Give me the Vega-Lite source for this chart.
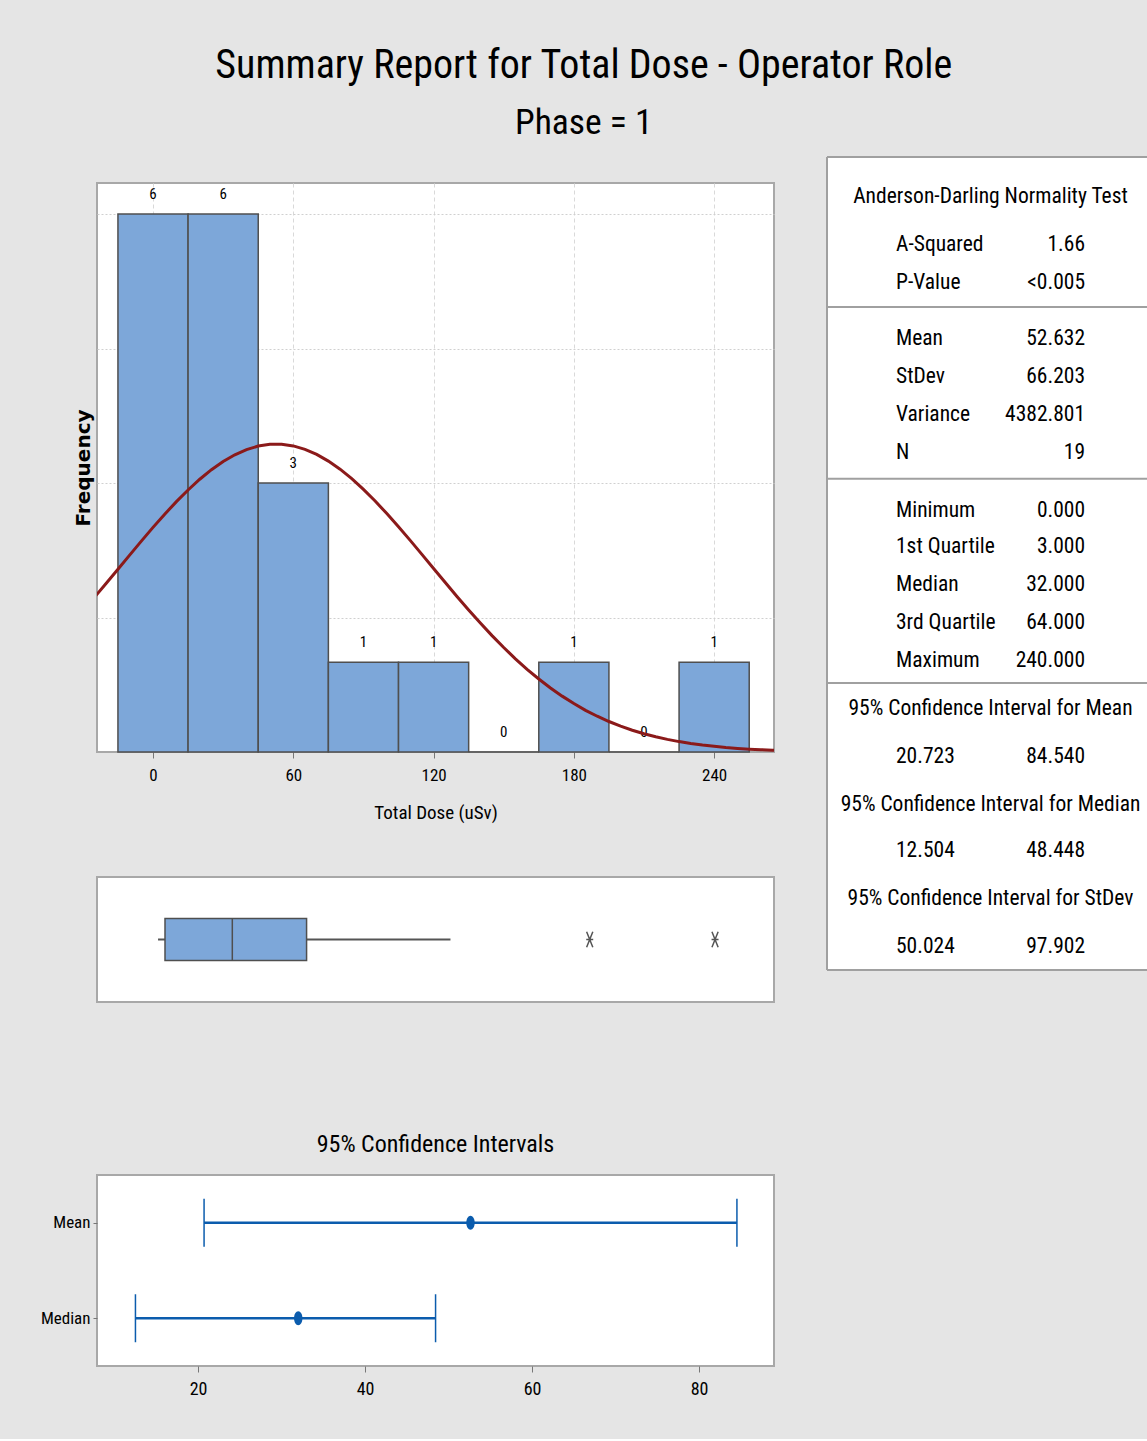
{
  "$schema": "https://vega.github.io/schema/vega-lite/v6.json",
  "background": "#e5e5e5",
  "padding": {"left": 39, "top": 46, "right": 0, "bottom": 40},
  "autosize": {"type": "pad"},
  "title": {
    "text": "Summary Report for Total Dose - Operator Role",
    "subtitle": "Phase = 1",
    "anchor": "middle",
    "font": "Roboto Condensed, DejaVu Sans Condensed, Roboto",
    "fontSize": 40,
    "fontWeight": "normal",
    "color": "#000000",
    "subtitleFont": "Roboto Condensed, DejaVu Sans Condensed, Roboto",
    "subtitleFontSize": 35.5,
    "subtitleColor": "#000000",
    "subtitlePadding": 19.5,
    "offset": 15,
    "dx": -10
  },
  "config": {
    "view": {"stroke": "#a8a8a8", "strokeWidth": 2, "fill": "white"},
    "font": "Roboto Condensed, DejaVu Sans Condensed, Roboto",
    "axis": {
      "labelFont": "Roboto Condensed, DejaVu Sans Condensed, Roboto",
      "titleFont": "Roboto Condensed, DejaVu Sans Condensed, Roboto",
      "labelColor": "#000000",
      "titleColor": "#000000",
      "titleFontWeight": "normal",
      "tickColor": "#777777",
      "grid": false,
      "domain": false
    }
  },
  "datasets": {
    "bins": [
      {"mid": 0, "lo": -15, "hi": 15, "count": 6},
      {"mid": 30, "lo": 15, "hi": 45, "count": 6},
      {"mid": 60, "lo": 45, "hi": 75, "count": 3},
      {"mid": 90, "lo": 75, "hi": 105, "count": 1},
      {"mid": 120, "lo": 105, "hi": 135, "count": 1},
      {"mid": 150, "lo": 135, "hi": 165, "count": 0},
      {"mid": 180, "lo": 165, "hi": 195, "count": 1},
      {"mid": 210, "lo": 195, "hi": 225, "count": 0},
      {"mid": 240, "lo": 225, "hi": 255, "count": 1}
    ],
    "curve": [
      {"x": -25, "f": 1.727}, {"x": -20, "f": 1.882}, {"x": -15, "f": 2.038}, {"x": -10, "f": 2.196},
      {"x": -5, "f": 2.352}, {"x": 0, "f": 2.505}, {"x": 5, "f": 2.652}, {"x": 10, "f": 2.792},
      {"x": 15, "f": 2.922}, {"x": 20, "f": 3.042}, {"x": 25, "f": 3.149}, {"x": 30, "f": 3.240},
      {"x": 35, "f": 3.315}, {"x": 40, "f": 3.373}, {"x": 45, "f": 3.412}, {"x": 50, "f": 3.432},
      {"x": 55, "f": 3.433}, {"x": 60, "f": 3.414}, {"x": 65, "f": 3.376}, {"x": 70, "f": 3.319},
      {"x": 75, "f": 3.244}, {"x": 80, "f": 3.154}, {"x": 85, "f": 3.048}, {"x": 90, "f": 2.929},
      {"x": 95, "f": 2.799}, {"x": 100, "f": 2.659}, {"x": 105, "f": 2.512}, {"x": 110, "f": 2.360},
      {"x": 115, "f": 2.204}, {"x": 120, "f": 2.047}, {"x": 125, "f": 1.890}, {"x": 130, "f": 1.735},
      {"x": 135, "f": 1.584}, {"x": 140, "f": 1.438}, {"x": 145, "f": 1.298}, {"x": 150, "f": 1.165},
      {"x": 155, "f": 1.039}, {"x": 160, "f": 0.922}, {"x": 165, "f": 0.814}, {"x": 170, "f": 0.714},
      {"x": 175, "f": 0.623}, {"x": 180, "f": 0.540}, {"x": 185, "f": 0.465}, {"x": 190, "f": 0.399},
      {"x": 195, "f": 0.340}, {"x": 200, "f": 0.288}, {"x": 205, "f": 0.243}, {"x": 210, "f": 0.204},
      {"x": 215, "f": 0.170}, {"x": 220, "f": 0.141}, {"x": 225, "f": 0.116}, {"x": 230, "f": 0.095},
      {"x": 235, "f": 0.077}, {"x": 240, "f": 0.063}, {"x": 245, "f": 0.050}, {"x": 250, "f": 0.040},
      {"x": 255, "f": 0.032}, {"x": 260, "f": 0.026}, {"x": 265, "f": 0.020}, {"x": 270, "f": 0.015}
    ],
    "box": [{"min": 0, "q1": 3, "median": 32, "q3": 64, "max": 126}],
    "outliers": [{"v": 186}, {"v": 240}],
    "ci": [
      {"stat": "Mean", "est": 52.632, "lo": 20.723, "hi": 84.540},
      {"stat": "Median", "est": 32.0, "lo": 12.504, "hi": 48.448}
    ],
    "dividers": [{"pos": 0}, {"pos": 3.95}, {"pos": 8.47}, {"pos": 13.84}, {"pos": 21.395}],
    "table": [
      {"row": 1.05, "header": "Anderson-Darling Normality Test"},
      {"row": 2.31, "label": "A-Squared", "value": "1.66"},
      {"row": 3.31, "label": "P-Value", "value": "<0.005"},
      {"row": 4.79, "label": "Mean", "value": "52.632"},
      {"row": 5.79, "label": "StDev", "value": "66.203"},
      {"row": 6.79, "label": "Variance", "value": "4382.801"},
      {"row": 7.79, "label": "N", "value": "19"},
      {"row": 9.31, "label": "Minimum", "value": "0.000"},
      {"row": 10.26, "label": "1st Quartile", "value": "3.000"},
      {"row": 11.26, "label": "Median", "value": "32.000"},
      {"row": 12.26, "label": "3rd Quartile", "value": "64.000"},
      {"row": 13.26, "label": "Maximum", "value": "240.000"},
      {"row": 14.52, "header": "95% Confidence Interval for Mean"},
      {"row": 15.79, "label": "20.723", "value": "84.540"},
      {"row": 17.05, "header": "95% Confidence Interval for Median"},
      {"row": 18.26, "label": "12.504", "value": "48.448"},
      {"row": 19.52, "header": "95% Confidence Interval for StDev"},
      {"row": 20.79, "label": "50.024", "value": "97.902"}
    ]
  },
  "hconcat": [
    {
      "vconcat": [
        {
          "vconcat": [
            {
              "width": 677,
              "height": 569,
              "layer": [
                {
                  "data": {"name": "bins"},
                  "mark": {"type": "bar", "fill": "#7da7d9", "stroke": "#4f4f4f", "strokeWidth": 1.5},
                  "encoding": {
                    "x": {
                      "field": "lo", "type": "quantitative", "title": "Total Dose (uSv)",
                      "scale": {"domain": [-23.96, 265.6], "nice": false, "zero": false},
                      "axis": {"values": [0, 60, 120, 180, 240], "grid": true, "gridDash": [4, 3], "gridColor": "#d9d9d9", "ticks": true, "tickSize": 6, "labelFontSize": 17, "labelPadding": 9, "titleFontSize": 19, "titlePadding": 20}
                    },
                    "x2": {"field": "hi"},
                    "y": {
                      "field": "count", "type": "quantitative", "title": "Frequency",
                      "scale": {"domain": [0, 6.346], "nice": false},
                      "axis": {"values": [1.5, 3, 4.5, 6], "grid": true, "gridDash": [2, 2], "gridColor": "#d0d0d0", "labels": false, "ticks": false, "titleFont": "DejaVu Sans", "titleFontWeight": "bold", "titleFontSize": 20, "titlePadding": 4}
                    },
                    "y2": {"datum": 0}
                  }
                },
                {
                  "data": {"name": "bins"},
                  "mark": {"type": "text", "dy": -20, "fontSize": 15, "color": "#000000"},
                  "encoding": {
                    "x": {"field": "mid", "type": "quantitative", "title": "Total Dose (uSv)"},
                    "y": {"field": "count", "type": "quantitative", "title": "Frequency"},
                    "text": {"field": "count", "type": "quantitative"}
                  }
                },
                {
                  "data": {"name": "curve"},
                  "mark": {"type": "line", "color": "#8b1a1a", "strokeWidth": 3, "clip": true},
                  "encoding": {
                    "x": {"field": "x", "type": "quantitative", "title": "Total Dose (uSv)"},
                    "y": {"field": "f", "type": "quantitative", "title": "Frequency"}
                  }
                }
              ]
            },
            {
              "width": 677,
              "height": 125,
              "layer": [
                {
                  "data": {"name": "box"},
                  "mark": {"type": "rule", "color": "#555555", "strokeWidth": 2},
                  "encoding": {
                    "x": {"field": "min", "type": "quantitative", "scale": {"domain": [-26.3, 265.4], "nice": false, "zero": false}, "axis": null},
                    "x2": {"field": "q1"},
                    "y": {"datum": 0, "type": "quantitative", "scale": {"domain": [-1, 1], "nice": false}, "axis": null}
                  }
                },
                {
                  "data": {"name": "box"},
                  "mark": {"type": "rule", "color": "#555555", "strokeWidth": 2},
                  "encoding": {
                    "x": {"field": "q3", "type": "quantitative", "axis": null},
                    "x2": {"field": "max"},
                    "y": {"datum": 0, "type": "quantitative", "axis": null}
                  }
                },
                {
                  "data": {"name": "box"},
                  "mark": {"type": "rect", "fill": "#7da7d9", "stroke": "#4f4f4f", "strokeWidth": 1.5},
                  "encoding": {
                    "x": {"field": "q1", "type": "quantitative", "axis": null},
                    "x2": {"field": "q3"},
                    "y": {"datum": -0.336, "type": "quantitative", "axis": null},
                    "y2": {"datum": 0.336}
                  }
                },
                {
                  "data": {"name": "box"},
                  "mark": {"type": "rule", "color": "#4f4f4f", "strokeWidth": 1.5},
                  "encoding": {
                    "x": {"field": "median", "type": "quantitative", "axis": null},
                    "y": {"datum": -0.336, "type": "quantitative", "axis": null},
                    "y2": {"datum": 0.336}
                  }
                },
                {
                  "data": {"name": "outliers"},
                  "mark": {"type": "point", "shape": "M-0.4,-1L0.4,1M0.4,-1L-0.4,1M-0.45,0L0.45,0", "filled": false, "stroke": "#555555", "strokeWidth": 1.5, "size": 240, "opacity": 1},
                  "encoding": {
                    "x": {"field": "v", "type": "quantitative", "axis": null},
                    "y": {"datum": 0, "type": "quantitative", "axis": null}
                  }
                }
              ]
            }
          ],
          "spacing": 53
        },
        {
          "width": 677,
          "height": 191,
          "title": {"text": "95% Confidence Intervals", "fontSize": 24, "fontWeight": "normal", "offset": 18, "color": "#000000"},
          "data": {"name": "ci"},
          "encoding": {
            "y": {
              "field": "stat", "type": "nominal", "title": null,
              "scale": {"type": "point", "padding": 0.5, "domain": ["Mean", "Median"]},
              "axis": {"ticks": true, "tickSize": 4, "labelFontSize": 17, "labelPadding": 3}
            }
          },
          "layer": [
            {
              "mark": {"type": "rule", "color": "#0b5cad", "strokeWidth": 2.5},
              "encoding": {
                "x": {
                  "field": "lo", "type": "quantitative", "title": null,
                  "scale": {"domain": [7.9, 88.98], "nice": false, "zero": false},
                  "axis": {"values": [20, 40, 60, 80], "ticks": true, "tickSize": 6, "labelFontSize": 18, "labelPadding": 8}
                },
                "x2": {"field": "hi"}
              }
            },
            {
              "mark": {"type": "tick", "color": "#0b5cad", "size": 48, "thickness": 1.5, "opacity": 1},
              "encoding": {"x": {"field": "lo", "type": "quantitative", "title": null}}
            },
            {
              "mark": {"type": "tick", "color": "#0b5cad", "size": 48, "thickness": 1.5, "opacity": 1},
              "encoding": {"x": {"field": "hi", "type": "quantitative", "title": null}}
            },
            {
              "mark": {"type": "point", "shape": "M0,-1C0.33,-1 0.6,-0.55 0.6,0C0.6,0.55 0.33,1 0,1C-0.33,1 -0.6,0.55 -0.6,0C-0.6,-0.55 -0.33,-1 0,-1Z", "filled": true, "color": "#0b5cad", "size": 196, "opacity": 1},
              "encoding": {"x": {"field": "est", "type": "quantitative", "title": null}}
            }
          ]
        }
      ],
      "spacing": 129
    },
    {
      "width": 320,
      "height": 787,
      "view": {"stroke": null, "fill": null},
      "layer": [
        {
          "data": {"values": [{"panel": "stats"}]},
          "mark": {"type": "rect", "fill": "white"},
          "encoding": {
            "x": {"datum": -0.3651, "type": "quantitative", "scale": {"domain": [-0.3651, 1.328], "nice": false, "zero": false}, "axis": null},
            "x2": {"datum": 1.328},
            "y": {"datum": 0, "type": "quantitative", "scale": {"domain": [0.684, 21.395], "nice": false, "zero": false, "reverse": true}, "axis": null},
            "y2": {"datum": 21.395}
          }
        },
        {
          "data": {"name": "dividers"},
          "mark": {"type": "rule", "color": "#a0a0a0", "strokeWidth": 2},
          "encoding": {"y": {"field": "pos", "type": "quantitative", "axis": null}}
        },
        {
          "data": {"values": [{"panel": "stats"}]},
          "mark": {"type": "rule", "color": "#a0a0a0", "strokeWidth": 2},
          "encoding": {
            "x": {"datum": -0.3651, "type": "quantitative", "axis": null},
            "y": {"datum": 0, "type": "quantitative", "axis": null},
            "y2": {"datum": 21.395}
          }
        },
        {
          "data": {"name": "table"},
          "transform": [{"filter": "isValid(datum.header)"}],
          "mark": {"type": "text", "align": "center", "baseline": "middle", "fontSize": 21.5, "color": "#000000"},
          "encoding": {
            "x": {"datum": 0.5, "type": "quantitative", "axis": null},
            "y": {"field": "row", "type": "quantitative", "axis": null},
            "text": {"field": "header", "type": "nominal"}
          }
        },
        {
          "data": {"name": "table"},
          "transform": [{"filter": "isValid(datum.label)"}],
          "mark": {"type": "text", "align": "left", "baseline": "middle", "fontSize": 21.5, "color": "#000000"},
          "encoding": {
            "x": {"datum": 0, "type": "quantitative", "axis": null},
            "y": {"field": "row", "type": "quantitative", "axis": null},
            "text": {"field": "label", "type": "nominal"}
          }
        },
        {
          "data": {"name": "table"},
          "transform": [{"filter": "isValid(datum.value)"}],
          "mark": {"type": "text", "align": "right", "baseline": "middle", "fontSize": 21.5, "color": "#000000"},
          "encoding": {
            "x": {"datum": 1, "type": "quantitative", "axis": null},
            "y": {"field": "row", "type": "quantitative", "axis": null},
            "text": {"field": "value", "type": "nominal"}
          }
        }
      ]
    }
  ],
  "spacing": 51
}
